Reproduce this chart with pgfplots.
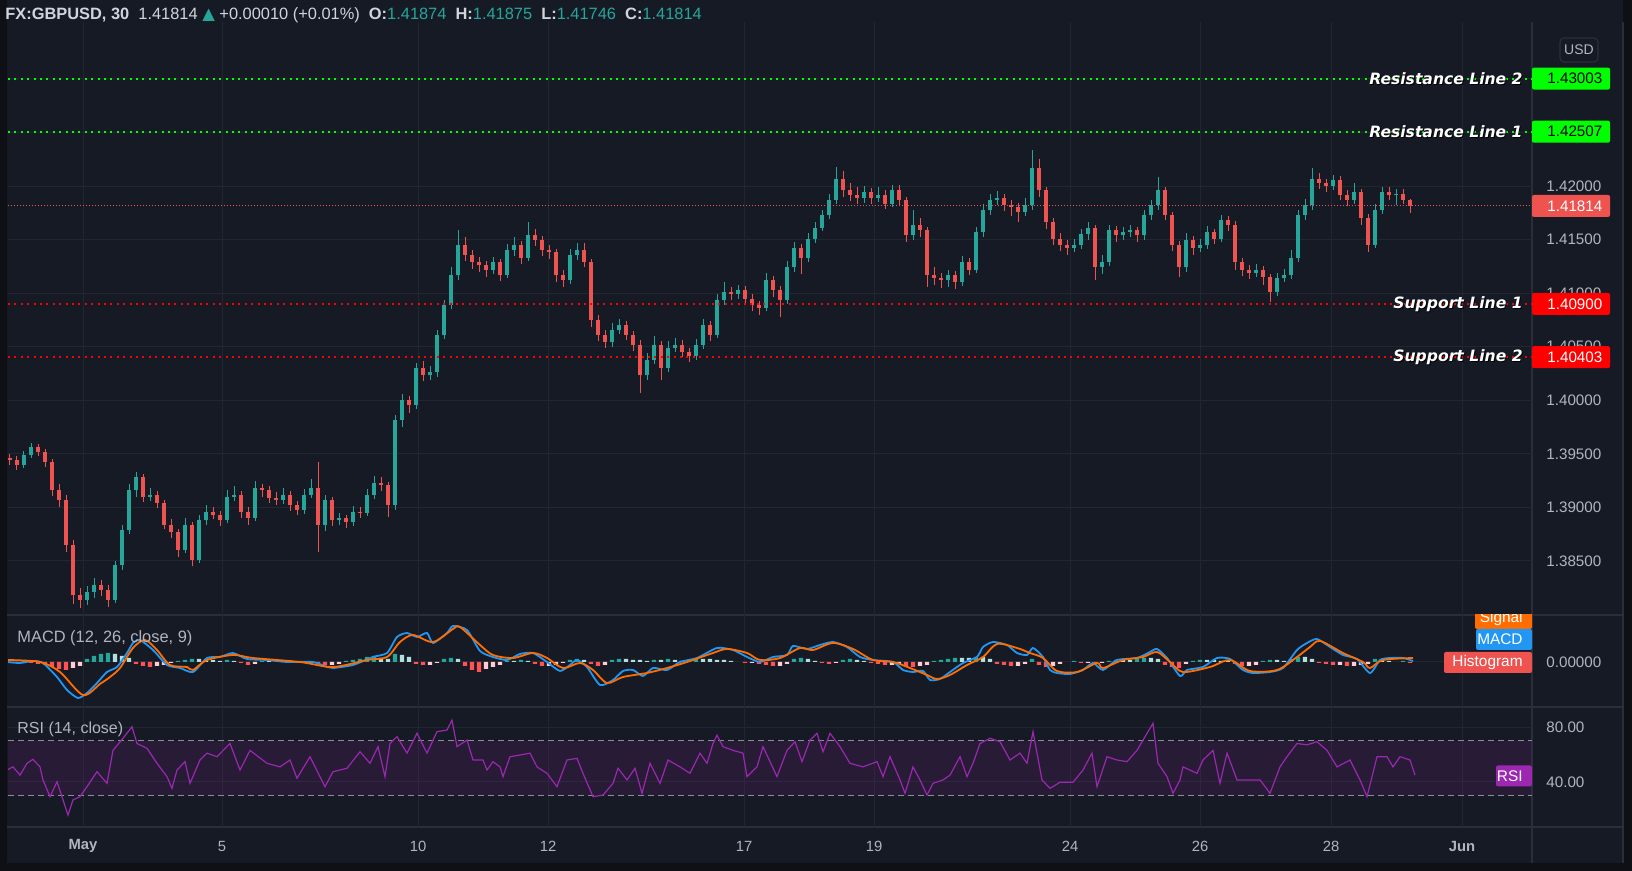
\documentclass[border=0pt]{standalone}
\usepackage{fontspec}
\setmainfont{Liberation Sans}
\newfontfamily\dejavu{DejaVu Sans}
\usepackage{pgfplots}
\usepackage{pgfplotstable}
\pgfplotsset{compat=1.18}

\definecolor{bg}{HTML}{161A25}
\definecolor{framec}{HTML}{0E1016}
\definecolor{gridc}{HTML}{222631}
\definecolor{sepc}{HTML}{2A2E39}
\definecolor{txt}{HTML}{B2B5BE}
\definecolor{hdr}{HTML}{D1D4DC}
\definecolor{upc}{HTML}{26A69A}
\definecolor{dnc}{HTML}{EF5350}
\definecolor{resg}{HTML}{00FF00}
\definecolor{supr}{HTML}{FF0000}
\definecolor{macdb}{HTML}{2196F3}
\definecolor{sigo}{HTML}{FF6D00}
\definecolor{hA}{HTML}{26A69A}
\definecolor{hB}{HTML}{B2DFDB}
\definecolor{hC}{HTML}{FF5252}
\definecolor{hD}{HTML}{FFCDD2}
\definecolor{rsic}{HTML}{9C27B0}
\definecolor{dashc}{HTML}{8A8D97}

\newcommand\lblfont{\dejavu\bfseries\itshape\fontsize{7.8}{9}\selectfont}
\newcommand\tagfont{\fontsize{7.6}{8}\selectfont}

% 30-minute GBPUSD candles, sampled (x = time position)
\pgfplotstableread{
x o h l c
10 1.3946 1.3950 1.3940 1.3944
17 1.3944 1.3948 1.3935 1.3940
24 1.3940 1.3953 1.3937 1.3949
31 1.3949 1.3960 1.3946 1.3956
38 1.3956 1.3959 1.3948 1.3952
45 1.3952 1.3955 1.3938 1.3942
52 1.3942 1.3945 1.3911 1.3916
59 1.3916 1.3922 1.3900 1.3907
66 1.3907 1.3912 1.3858 1.3865
73 1.3865 1.3870 1.3810 1.3818
80 1.3818 1.3825 1.3806 1.3814
87 1.3814 1.3827 1.3809 1.3821
94 1.3821 1.3834 1.3815 1.3828
101 1.3828 1.3832 1.3817 1.3823
108 1.3823 1.3828 1.3807 1.3814
115 1.3814 1.3850 1.3811 1.3846
122 1.3846 1.3884 1.3842 1.3879
129 1.3879 1.3922 1.3875 1.3916
136 1.3916 1.3933 1.3910 1.3928
143 1.3928 1.3931 1.3905 1.3910
150 1.3910 1.3918 1.3906 1.3912
157 1.3912 1.3915 1.3899 1.3904
164 1.3904 1.3907 1.3880 1.3884
171 1.3884 1.3889 1.3871 1.3877
178 1.3877 1.3880 1.3854 1.3860
185 1.3860 1.3890 1.3857 1.3884
192 1.3884 1.3886 1.3845 1.3851
199 1.3851 1.3893 1.3848 1.3888
206 1.3888 1.3902 1.3884 1.3896
213 1.3896 1.3900 1.3889 1.3893
220 1.3893 1.3897 1.3883 1.3888
227 1.3888 1.3916 1.3885 1.3910
234 1.3910 1.3920 1.3906 1.3912
241 1.3912 1.3915 1.3890 1.3896
248 1.3896 1.3900 1.3884 1.3890
255 1.3890 1.3925 1.3887 1.3918
262 1.3918 1.3922 1.3910 1.3916
269 1.3916 1.3920 1.3904 1.3909
276 1.3909 1.3914 1.3902 1.3907
283 1.3907 1.3918 1.3903 1.3912
290 1.3912 1.3915 1.3897 1.3902
297 1.3902 1.3906 1.3893 1.3898
304 1.3898 1.3917 1.3894 1.3912
311 1.3912 1.3927 1.3909 1.3918
318 1.3918 1.3942 1.3858 1.3884
325 1.3884 1.3912 1.3878 1.3907
332 1.3907 1.3910 1.3883 1.3888
339 1.3888 1.3895 1.3884 1.3890
346 1.3890 1.3893 1.3881 1.3886
353 1.3886 1.3901 1.3883 1.3896
360 1.3896 1.3900 1.3890 1.3895
367 1.3895 1.3917 1.3892 1.3912
374 1.3912 1.3929 1.3908 1.3923
381 1.3923 1.3928 1.3915 1.3921
388 1.3921 1.3924 1.3891 1.3902
395 1.3902 1.3986 1.3898 1.3982
402 1.3982 1.4006 1.3975 1.4000
409 1.4000 1.4004 1.3988 1.3996
416 1.3996 1.4035 1.3992 1.4030
423 1.4030 1.4037 1.4018 1.4024
430 1.4024 1.4032 1.4019 1.4026
437 1.4026 1.4066 1.4022 1.4061
444 1.4061 1.4094 1.4057 1.4089
451 1.4089 1.4124 1.4085 1.4117
458 1.4117 1.4159 1.4112 1.4145
465 1.4145 1.4152 1.4130 1.4136
472 1.4136 1.4140 1.4123 1.4129
479 1.4129 1.4134 1.4120 1.4126
486 1.4126 1.4130 1.4115 1.4122
493 1.4122 1.4134 1.4118 1.4129
500 1.4129 1.4132 1.4111 1.4117
507 1.4117 1.4146 1.4114 1.4140
514 1.4140 1.4152 1.4135 1.4145
521 1.4145 1.4149 1.4127 1.4133
528 1.4133 1.4166 1.4130 1.4154
535 1.4154 1.4160 1.4144 1.4150
542 1.4150 1.4153 1.4135 1.4140
549 1.4140 1.4145 1.4132 1.4138
556 1.4138 1.4141 1.4110 1.4117
563 1.4117 1.4122 1.4106 1.4112
570 1.4112 1.4141 1.4109 1.4136
577 1.4136 1.4147 1.4131 1.4140
584 1.4140 1.4147 1.4124 1.4129
591 1.4129 1.4132 1.4068 1.4075
598 1.4075 1.4080 1.4055 1.4061
605 1.4061 1.4066 1.4049 1.4054
612 1.4054 1.4072 1.4050 1.4066
619 1.4066 1.4076 1.4062 1.4070
626 1.4070 1.4074 1.4056 1.4061
633 1.4061 1.4065 1.4046 1.4052
640 1.4052 1.4056 1.4007 1.4024
647 1.4024 1.4044 1.4019 1.4038
654 1.4038 1.4060 1.4034 1.4052
661 1.4052 1.4055 1.4019 1.4030
668 1.4030 1.4055 1.4026 1.4049
675 1.4049 1.4058 1.4045 1.4052
682 1.4052 1.4056 1.4040 1.4045
689 1.4045 1.4049 1.4036 1.4041
696 1.4041 1.4057 1.4038 1.4052
703 1.4052 1.4076 1.4048 1.4070
710 1.4070 1.4074 1.4055 1.4061
717 1.4061 1.4099 1.4058 1.4094
724 1.4094 1.4110 1.4089 1.4101
731 1.4101 1.4106 1.4094 1.4099
738 1.4099 1.4108 1.4095 1.4103
745 1.4103 1.4107 1.4090 1.4095
752 1.4095 1.4099 1.4083 1.4089
759 1.4089 1.4093 1.4080 1.4086
766 1.4086 1.4119 1.4083 1.4112
773 1.4112 1.4116 1.4096 1.4103
780 1.4103 1.4107 1.4078 1.4094
787 1.4094 1.4130 1.4090 1.4124
794 1.4124 1.4148 1.4120 1.4142
801 1.4142 1.4146 1.4118 1.4133
808 1.4133 1.4156 1.4129 1.4151
815 1.4151 1.4166 1.4147 1.4161
822 1.4161 1.4178 1.4158 1.4173
829 1.4173 1.4193 1.4169 1.4187
836 1.4187 1.4218 1.4183 1.4207
843 1.4207 1.4214 1.4190 1.4196
850 1.4196 1.4203 1.4186 1.4192
857 1.4192 1.4199 1.4183 1.4189
864 1.4189 1.4200 1.4184 1.4194
871 1.4194 1.4198 1.4183 1.4189
878 1.4189 1.4199 1.4185 1.4192
885 1.4192 1.4196 1.4179 1.4183
892 1.4183 1.4201 1.4180 1.4196
899 1.4196 1.4201 1.4182 1.4187
906 1.4187 1.4190 1.4148 1.4154
913 1.4154 1.4178 1.4150 1.4164
920 1.4164 1.4170 1.4152 1.4159
927 1.4159 1.4162 1.4106 1.4117
934 1.4117 1.4124 1.4108 1.4114
941 1.4114 1.4119 1.4105 1.4112
948 1.4112 1.4122 1.4106 1.4117
955 1.4117 1.4121 1.4104 1.4110
962 1.4110 1.4135 1.4107 1.4129
969 1.4129 1.4133 1.4117 1.4122
976 1.4122 1.4162 1.4119 1.4157
983 1.4157 1.4183 1.4152 1.4178
990 1.4178 1.4193 1.4173 1.4187
997 1.4187 1.4195 1.4182 1.4189
1004 1.4189 1.4193 1.4177 1.4182
1011 1.4182 1.4187 1.4172 1.4180
1018 1.4180 1.4184 1.4166 1.4176
1025 1.4176 1.4189 1.4172 1.4182
1032 1.4182 1.4234 1.4178 1.4217
1039 1.4217 1.4225 1.4190 1.4196
1046 1.4196 1.4199 1.4160 1.4166
1053 1.4166 1.4170 1.4145 1.4151
1060 1.4151 1.4156 1.4139 1.4145
1067 1.4145 1.4150 1.4136 1.4142
1074 1.4142 1.4151 1.4138 1.4145
1081 1.4145 1.4160 1.4141 1.4155
1088 1.4155 1.4166 1.4150 1.4161
1095 1.4161 1.4164 1.4112 1.4124
1102 1.4124 1.4136 1.4118 1.4129
1109 1.4129 1.4164 1.4125 1.4159
1116 1.4159 1.4163 1.4148 1.4154
1123 1.4154 1.4162 1.4150 1.4157
1130 1.4157 1.4164 1.4152 1.4159
1137 1.4159 1.4162 1.4148 1.4154
1144 1.4154 1.4178 1.4150 1.4173
1151 1.4173 1.4187 1.4168 1.4182
1158 1.4182 1.4208 1.4178 1.4196
1165 1.4196 1.4199 1.4168 1.4173
1172 1.4173 1.4176 1.4139 1.4145
1179 1.4145 1.4149 1.4115 1.4124
1186 1.4124 1.4156 1.4120 1.4150
1193 1.4150 1.4153 1.4136 1.4142
1200 1.4142 1.4151 1.4138 1.4145
1207 1.4145 1.4163 1.4141 1.4157
1214 1.4157 1.4160 1.4146 1.4151
1221 1.4151 1.4173 1.4148 1.4168
1228 1.4168 1.4172 1.4158 1.4164
1235 1.4164 1.4167 1.4122 1.4129
1242 1.4129 1.4133 1.4116 1.4122
1249 1.4122 1.4126 1.4113 1.4119
1256 1.4119 1.4127 1.4115 1.4122
1263 1.4122 1.4125 1.4108 1.4115
1270 1.4115 1.4118 1.4092 1.4101
1277 1.4101 1.4119 1.4097 1.4114
1284 1.4114 1.4123 1.4110 1.4117
1291 1.4117 1.4140 1.4113 1.4133
1298 1.4133 1.4178 1.4129 1.4173
1305 1.4173 1.4188 1.4168 1.4182
1312 1.4182 1.4217 1.4178 1.4207
1319 1.4207 1.4212 1.4197 1.4203
1326 1.4203 1.4207 1.4194 1.4200
1333 1.4200 1.4210 1.4196 1.4206
1340 1.4206 1.4209 1.4187 1.4192
1347 1.4192 1.4196 1.4181 1.4187
1354 1.4187 1.4203 1.4183 1.4194
1361 1.4194 1.4197 1.4164 1.4170
1368 1.4170 1.4174 1.4138 1.4145
1375 1.4145 1.4183 1.4142 1.4178
1382 1.4178 1.4199 1.4174 1.4194
1389 1.4194 1.4199 1.4187 1.4192
1396 1.4192 1.4197 1.4182 1.4193
1403 1.4193 1.4197 1.4183 1.41874
1410 1.41874 1.41875 1.41746 1.41814
}\candles

% MACD histogram: value v, colour class k (0 up-rising, 1 up-falling, 2 down-falling, 3 down-rising)
\pgfplotstableread{
x v k
10 -0.00005 2
17 -0.00005 3
24 0.00005 0
31 -0.00005 2
38 -0.0001 2
45 -0.00015 2
52 -0.00025 2
59 -0.00035 2
66 -0.0004 2
73 -0.0003 3
80 -0.0002 3
87 0.00015 0
94 0.0003 0
101 0.0004 0
108 0.00045 0
115 0.0004 1
122 0.0003 1
129 0.0002 1
136 -0.0001 2
143 -0.0002 2
150 -0.00025 2
157 -0.0002 3
164 -0.00015 3
171 -0.00005 3
178 0.00005 0
185 0.0001 0
192 0.00015 0
199 0.00015 1
206 0.0001 1
213 0.0001 1
220 0.00005 1
227 0.0001 0
234 0.00005 1
241 -0.00005 2
248 -0.00015 2
255 -0.0001 3
262 0.00005 0
269 0.00005 1
283 0.00005 0
290 0.00005 1
304 -0.00005 2
311 -0.00005 3
318 -0.0001 2
325 -0.00015 2
332 -0.00015 3
339 -0.0001 3
346 0.00005 0
353 0.0001 0
360 0.00015 0
367 0.00025 0
374 0.0003 0
381 0.0002 1
388 0.00015 1
395 0.0004 0
402 0.00035 1
409 0.00025 1
416 -0.0001 2
423 -0.00015 2
430 -0.00015 3
437 -0.00005 3
444 0.00015 0
451 0.0002 0
458 0.00015 1
465 -0.0002 2
472 -0.0004 2
479 -0.0005 2
486 -0.00035 3
493 -0.00025 3
500 -0.00015 3
507 0.00005 0
514 0.00005 1
521 0.0001 0
528 0.00005 1
535 -0.0001 2
542 -0.0002 2
549 -0.0002 3
556 -0.00015 3
563 -0.00005 3
570 0.0001 0
577 0.00015 0
584 0.0001 1
591 -0.0001 2
598 -0.0002 2
605 -0.00015 3
612 0.0001 0
619 0.00015 0
626 0.00015 1
633 0.0001 1
640 0.0001 1
647 0.00005 1
654 0.0001 0
661 0.0001 1
668 0.00015 0
675 0.0001 1
682 0.00005 1
689 0.0001 0
696 0.00015 0
703 0.00015 1
710 0.00015 1
717 0.0001 1
724 0.0001 1
731 0.00005 1
745 -0.00005 2
752 -0.00005 3
759 -0.0001 2
766 -0.00015 2
773 -0.0002 2
780 -0.0002 3
787 -0.0001 3
794 0.00015 0
801 0.0002 0
808 0.00015 1
815 0.00005 1
822 -0.00005 2
829 -0.0001 2
836 -0.00005 3
843 0.0001 0
850 0.00015 0
857 0.0001 1
864 0.00005 1
871 -0.00005 2
878 -0.0001 2
885 -0.00015 2
892 -0.00015 3
899 -0.0001 3
906 -0.0002 2
913 -0.00025 2
920 -0.0002 3
927 -0.00015 3
934 0.00005 0
941 0.0001 0
948 0.00015 0
955 0.0002 0
962 0.0002 1
969 0.0002 1
976 0.00025 0
983 0.00025 1
990 0.00015 1
997 -0.0001 2
1004 -0.00015 2
1011 -0.0002 2
1018 -0.0002 3
1025 -0.0001 3
1032 0.00015 0
1039 -0.00015 2
1046 -0.00025 2
1053 -0.0002 3
1060 -0.0001 3
1074 0.00005 0
1081 -0.00005 2
1088 -0.00005 3
1095 -0.0001 2
1102 -0.00005 3
1109 0.00005 0
1116 0.0001 0
1123 0.0001 1
1130 0.0001 1
1137 0.00015 0
1144 0.0002 0
1151 0.0002 1
1158 0.00015 1
1165 -0.00015 2
1172 -0.00025 2
1179 -0.0003 2
1186 -0.0001 3
1193 0.00005 0
1200 0.0001 0
1207 0.0001 1
1214 0.0001 1
1221 0.00005 1
1228 0.00005 1
1235 -0.0001 2
1242 -0.0002 2
1249 -0.0002 3
1256 -0.00015 3
1263 0.00005 0
1270 0.0001 0
1277 0.0001 1
1284 0.00005 1
1291 0.00015 0
1298 0.00025 0
1305 0.00025 1
1312 0.00015 1
1319 -0.00005 2
1326 -0.0001 2
1333 -0.00015 2
1340 -0.00015 3
1347 -0.0002 2
1354 -0.0002 3
1361 -0.00015 3
1368 -0.0001 3
1375 0.00015 0
1382 0.0001 1
1389 0.00005 1
1403 0.00005 0
1410 -0.00005 2
}\hist

\pgfplotsset{
  pane/.style={
    scale only axis, width=762pt, xmin=8, xmax=1532, anchor=south west,
    axis line style={draw=none}, major tick length=0pt, tick style={draw=none},
    xtick={83,222,418,548,744,874,1070,1200,1331,1462},
    scaled x ticks=false, scaled y ticks=false,
    grid=major, major grid style={draw=gridc, line width=0.5pt},
    yticklabel pos=right,
    yticklabel style={anchor=west, inner sep=0pt, xshift=7pt, font=\tagfont, text=txt},
  },
  candle/.style={only marks, mark=*, mark size=0pt, mark options={draw=none, fill=none}, forget plot},
}

\begin{document}
\begin{tikzpicture}[x=1pt,y=1pt]
\useasboundingbox (0,0) rectangle (816,435.5);
\fill[bg] (0,0) rectangle (816,435.5);
\fill[framec] (0,0) rectangle (3.5,435.5);
\fill[framec] (811.5,0) rectangle (816,435.5);
\fill[framec] (0,0) rectangle (816,4);
% pane separators and scale border
\draw[sepc, line width=1pt] (3.5,128) -- (811.5,128);
\draw[sepc, line width=1pt] (3.5,82) -- (811.5,82);
\draw[sepc, line width=1pt] (3.5,22) -- (811.5,22);
\draw[sepc, line width=0.6pt] (766,4) -- (766,424.5);
\draw[sepc, line width=0.6pt] (811.5,4) -- (811.5,424.5);

% ---------------- main price pane ----------------
\begin{axis}[pane, at={(4pt,128pt)}, height=296.5pt,
  ymin=1.37996, ymax=1.43531, xticklabels={},
  ytick={1.385,1.39,1.395,1.4,1.405,1.41,1.415,1.42,1.425,1.43},
  yticklabels={1.38500,1.39000,1.39500,1.40000,1.40500,1.41000,1.41500,1.42000,{},{}}]
% up candles: wicks then bodies
\addplot[candle, restrict y to domain=1.3:1.5, error bars/.cd, y dir=plus, y explicit, error mark=none,
  error bar style={upc, line width=0.5pt}]
  table[x=x, y expr={\thisrow{l}+10*(\thisrow{c}<\thisrow{o})}, y error plus expr={\thisrow{h}-\thisrow{l}}] {\candles};
\addplot[candle, restrict y to domain=1.3:1.5, error bars/.cd, y dir=plus, y explicit, error mark=none,
  error bar style={upc, line width=2.2pt}]
  table[x=x, y expr={\thisrow{o}+10*(\thisrow{c}<\thisrow{o})}, y error plus expr={\thisrow{c}-\thisrow{o}}] {\candles};
% down candles
\addplot[candle, restrict y to domain=1.3:1.5, error bars/.cd, y dir=plus, y explicit, error mark=none,
  error bar style={dnc, line width=0.5pt}]
  table[x=x, y expr={\thisrow{l}+10*(1-(\thisrow{c}<\thisrow{o}))}, y error plus expr={\thisrow{h}-\thisrow{l}}] {\candles};
\addplot[candle, restrict y to domain=1.3:1.5, error bars/.cd, y dir=plus, y explicit, error mark=none,
  error bar style={dnc, line width=2.2pt}]
  table[x=x, y expr={\thisrow{c}+10*(1-(\thisrow{c}<\thisrow{o}))}, y error plus expr={\thisrow{o}-\thisrow{c}}] {\candles};
% horizontal levels
\addplot[resg, line width=1pt, dash pattern=on 1pt off 2.2pt] coordinates {(8,1.43003) (1532,1.43003)};
\addplot[resg, line width=1pt, dash pattern=on 1pt off 2.2pt] coordinates {(8,1.42507) (1532,1.42507)};
\addplot[dnc, line width=0.5pt, dash pattern=on 0.5pt off 1pt] coordinates {(8,1.41814) (1532,1.41814)};
\addplot[supr, line width=1pt, dash pattern=on 1pt off 2.2pt] coordinates {(8,1.40900) (1532,1.40900)};
\addplot[supr, line width=1pt, dash pattern=on 1pt off 2.2pt] coordinates {(8,1.40403) (1532,1.40403)};
% level labels
\foreach \v/\t in {1.43003/Resistance Line 2, 1.42507/Resistance Line 1, 1.40900/Support Line 1, 1.40403/Support Line 2}{
  \edef\tmp{\noexpand\node[anchor=east, inner sep=0pt, font=\noexpand\lblfont, text=black, xshift=0.5pt, yshift=-0.5pt] at (axis cs:1523,\v) {\t};}\tmp
  \edef\tmp{\noexpand\node[anchor=east, inner sep=0pt, font=\noexpand\lblfont, text=white] at (axis cs:1523,\v) {\t};}\tmp
}
\coordinate (tR2) at (axis cs:1532,1.43003);
\coordinate (tR1) at (axis cs:1532,1.42507);
\coordinate (tC) at (axis cs:1532,1.41814);
\coordinate (tS1) at (axis cs:1532,1.40900);
\coordinate (tS2) at (axis cs:1532,1.40403);
\end{axis}

% ---------------- MACD pane ----------------
\begin{axis}[pane, at={(4pt,82pt)}, height=46pt,
  ymin=-0.00225, ymax=0.00235, xticklabels={},
  ytick={0}, yticklabels={0.00000}]
\addplot[ybar, bar width=2.2pt, bar shift=0pt, draw=none, fill=hA, restrict y to domain=-0.01:0.01, forget plot]
  table[x=x, y expr={\thisrow{v}+abs(\thisrow{k}-0)}] {\hist};
\addplot[ybar, bar width=2.2pt, bar shift=0pt, draw=none, fill=hB, restrict y to domain=-0.01:0.01, forget plot]
  table[x=x, y expr={\thisrow{v}+abs(\thisrow{k}-1)}] {\hist};
\addplot[ybar, bar width=2.2pt, bar shift=0pt, draw=none, fill=hC, restrict y to domain=-0.01:0.01, forget plot]
  table[x=x, y expr={\thisrow{v}+abs(\thisrow{k}-2)}] {\hist};
\addplot[ybar, bar width=2.2pt, bar shift=0pt, draw=none, fill=hD, restrict y to domain=-0.01:0.01, forget plot]
  table[x=x, y expr={\thisrow{v}+abs(\thisrow{k}-3)}] {\hist};
% MACD line
\addplot[macdb, line width=0.9pt, smooth, tension=0.4] coordinates {
(7,0)(20,-0.00005)(33,0.00005)(43,-0.00005)(57,-0.00075)(67,-0.0014)(78,-0.0018)(87,-0.00155)(97,-0.00105)(107,-0.0005)(117,-0.00025)(127,0.00045)(133,0.00095)(140,0.0011)(153,0.0006)(167,-0.00015)(180,-0.0003)(193,-0.0005)(207,0.0002)(220,0.00025)(233,0.00045)(247,0.00015)(267,0.0001)(287,0)(313,0)(327,-0.00025)(333,-0.0003)(353,-0.00015)(373,0.00025)(387,0.00045)(397,0.00125)(407,0.00145)(417,0.00125)(427,0.00145)(433,0.00095)(447,0.00145)(453,0.0018)(467,0.0016)(480,0.00055)(493,0.00025)(507,0.0001)(520,0.0004)(533,0.00045)(547,0)(560,-0.00045)(570,-0.00015)(577,0.0001)(587,-0.00025)(600,-0.00115)(613,-0.0009)(623,-0.00045)(633,-0.0004)(643,-0.0007)(653,-0.0003)(667,-0.0004)(680,0)(697,0.0002)(717,0.0007)(733,0.0006)(747,0.00025)(760,0)(773,0.00025)(787,0.00035)(793,0.0008)(807,0.00065)(820,0.00085)(833,0.001)(847,0.00075)(860,0.00025)(873,0.0001)(893,0)(903,-0.0004)(913,-0.0005)(923,-0.00045)(930,-0.0009)(940,-0.00085)(950,-0.0005)(963,-0.00005)(977,0.00025)(983,0.00075)(993,0.001)(1007,0.00085)(1017,0.00045)(1027,0.00035)(1033,0.0007)(1043,0.00025)(1050,-0.0004)(1057,-0.00055)(1070,-0.0006)(1083,-0.0004)(1093,-0.00005)(1103,-0.0004)(1117,0.0001)(1137,0.0002)(1150,0.0005)(1157,0.00065)(1167,0.0002)(1180,-0.0007)(1187,-0.0004)(1203,-0.00025)(1217,0.0002)(1230,0.00015)(1243,-0.0004)(1253,-0.00055)(1270,-0.0005)(1283,-0.0003)(1297,0.0006)(1307,0.00095)(1317,0.00115)(1330,0.00075)(1343,0.00035)(1357,0.00015)(1370,-0.00055)(1380,0.0001)(1390,0.0002)(1403,0.0002)(1413,0.00005)};
% Signal line
\addplot[sigo, line width=0.9pt, smooth, tension=0.5] coordinates {
(7,0.0001)(40,0)(60,-0.0005)(83,-0.00165)(100,-0.0011)(110,-0.00075)(120,-0.0003)(133,0.0007)(145,0.0011)(157,0.0006)(170,-0.00015)(187,-0.00025)(193,-0.0004)(207,0.0001)(233,0.00035)(253,0.0002)(300,0)(333,-0.00025)(367,0.0001)(387,0.00025)(400,0.001)(413,0.00135)(433,0.001)(453,0.00165)(460,0.00175)(480,0.00085)(493,0.00035)(513,0.0002)(533,0.00045)(547,0.0002)(563,-0.0003)(580,-0.00005)(593,-0.0004)(607,-0.00105)(623,-0.00075)(647,-0.00055)(667,-0.0003)(687,0)(713,0.00045)(727,0.00065)(747,0.00045)(760,0.0001)(780,0.0002)(800,0.0007)(813,0.0006)(833,0.00095)(853,0.00065)(873,0.0001)(893,0)(910,-0.0003)(927,-0.00065)(937,-0.00085)(950,-0.00065)(967,-0.00015)(983,0.00025)(997,0.0009)(1017,0.0007)(1030,0.00045)(1043,0.0002)(1057,-0.00045)(1077,-0.0005)(1097,-0.00005)(1103,-0.0003)(1123,0.0001)(1143,0.00025)(1157,0.0005)(1170,0)(1183,-0.0005)(1210,-0.00025)(1230,0.0001)(1250,-0.00045)(1277,-0.0004)(1297,0.00025)(1310,0.00075)(1320,0.00105)(1343,0.00045)(1363,0)(1370,-0.0003)(1383,0.0001)(1413,0.0002)};
\end{axis}

% ---------------- RSI pane ----------------
\begin{axis}[pane, at={(4pt,22pt)}, height=60pt,
  ymin=7.27, ymax=94.55,
  xticklabels={\textbf{May},5,10,12,17,19,24,26,28,\textbf{Jun}},
  xticklabel style={anchor=center, inner sep=0pt, yshift=-9.5pt, font=\fontsize{7.4}{8}\selectfont, text=txt},
  ytick={40,80}, yticklabels={40.00,80.00}]
\addplot[draw=none, fill=rsic, fill opacity=0.13] coordinates {(8,30) (1532,30) (1532,70) (8,70) (8,30)};
\addplot[dashc, line width=0.5pt, dash pattern=on 3pt off 2pt] coordinates {(8,70) (1532,70)};
\addplot[dashc, line width=0.5pt, dash pattern=on 3pt off 2pt] coordinates {(8,30) (1532,30)};
\addplot[rsic, line width=0.6pt] coordinates {
(7,48.7)(13,51)(20,45)(27,53.6)(33,56.5)(40,51)(43,41.5)(50,29.3)(57,40.2)(63,27)(68,16)(73,27)(80,29.3)(87,36.6)(97,47.5)(107,39)(113,63)(123,71.8)(132,80.2)(137,68)(147,64.5)(157,53.6)(167,43.9)(172,35.4)(177,48.7)(185,54.8)(190,39)(200,56)(207,61)(217,58.4)(230,68)(240,48.7)(250,63)(267,53.6)(280,51)(290,56)(297,42.7)(310,58.4)(325,36.6)(333,47.5)(347,50)(360,62)(370,53.6)(378,65.7)(385,43.9)(390,68)(397,73)(407,61)(417,75.4)(427,61)(437,76.6)(447,77.8)(452,85)(457,65.7)(467,70.5)(473,56)(483,56)(487,48.7)(493,54.8)(500,51)(503,43.9)(510,58.4)(520,59.6)(530,61)(537,51)(547,46.3)(557,36.6)(567,56)(577,57.2)(583,46.3)(593,29.3)(603,30.5)(613,39)(618,50)(627,41.5)(635,50)(642,31.8)(650,53.6)(660,39)(668,56)(680,51)(690,46.3)(700,61)(707,53.6)(713,68)(717,74)(723,65.7)(733,63)(743,61)(747,43.9)(757,51)(763,65.7)(777,43.9)(787,63)(795,69.3)(802,54.8)(810,70.5)(817,75.4)(823,62)(830,75.4)(840,65.7)(850,53.6)(863,51)(877,54.8)(883,43.9)(890,58.4)(900,41.5)(905,31.8)(913,51)(920,41.5)(927,30.5)(933,39)(943,41.5)(950,45)(960,58.4)(967,43.9)(973,53.6)(980,68)(990,71.8)(1000,69.3)(1010,56)(1020,61)(1027,53.6)(1033,76.6)(1042,41.5)(1050,35.4)(1060,39.8)(1073,39.8)(1083,48.7)(1092,61)(1097,36.6)(1107,58.4)(1117,56)(1127,54.8)(1137,63)(1147,75.4)(1153,82.7)(1158,53.6)(1167,43.9)(1173,31.8)(1180,41.5)(1183,51)(1197,46.3)(1203,56)(1213,63)(1220,39)(1227,61)(1237,41.5)(1247,41.5)(1260,41.5)(1270,31.8)(1280,51)(1287,58.4)(1297,68)(1307,67)(1317,69.3)(1327,63)(1337,51)(1350,56)(1360,41.5)(1367,29.3)(1377,58.4)(1387,58.4)(1393,51)(1400,58.4)(1410,56)(1415,45)};
\coordinate (tRSI) at (axis cs:1532,44.4);
\end{axis}

% ---------------- price tags ----------------
\newcommand\ptag[4]{%
  \fill[#2, rounded corners=1pt] ([yshift=-5.5pt]#1) rectangle ([xshift=39pt,yshift=5.5pt]#1);
  \node[anchor=west, inner sep=0pt, text=#3, font=\tagfont] at ([xshift=7.5pt]#1) {#4};}
\ptag{tR2}{resg}{black}{1.43003}
\ptag{tR1}{resg}{black}{1.42507}
\ptag{tC}{dnc}{white}{1.41814}
\ptag{tS1}{supr}{white}{1.40900}
\ptag{tS2}{supr}{white}{1.40403}

% MACD pane tags
\begin{scope}
\clip (730,82) rectangle (766,128);
\fill[sigo, rounded corners=1pt] (737.5,121) rectangle (766,131.5);
\node[anchor=east, inner sep=0pt, text=white, font=\fontsize{7.7}{8}\selectfont] at (761.5,126.25) {Signal};
\end{scope}
\fill[macdb, rounded corners=1pt] (738,110.5) rectangle (766,121);
\node[anchor=east, inner sep=0pt, text=white, font=\fontsize{7.7}{8}\selectfont] at (761.5,115.75) {MACD};
\fill[dnc, rounded corners=1pt] (722,99) rectangle (766,109.5);
\node[anchor=east, inner sep=0pt, text=white, font=\fontsize{7.7}{8}\selectfont] at (761.5,104.25) {Histogram};
% RSI tag
\fill[rsic, rounded corners=1pt] ([xshift=-18pt,yshift=-5.25pt]tRSI) rectangle ([yshift=5.25pt]tRSI);
\node[anchor=east, inner sep=0pt, text=white, font=\fontsize{7.7}{8}\selectfont] at ([xshift=-4.5pt]tRSI) {RSI};

% pane titles
\node[anchor=west, inner sep=0pt, text=txt, font=\fontsize{8.2}{9}\selectfont] at (8.5,116.5) {MACD (12, 26, close, 9)};
\node[anchor=west, inner sep=0pt, text=txt, font=\fontsize{8}{9}\selectfont] at (8.5,71) {RSI (14, close)};

% USD box
\draw[sepc, line width=0.6pt, rounded corners=2pt] (780,404.5) rectangle (799,416.5);
\node[inner sep=0pt, text=txt, font=\fontsize{7}{8}\selectfont] at (789.5,410.5) {USD};

% header
\node[anchor=base west, inner sep=0pt, text=hdr, font=\fontsize{8.2}{9}\selectfont] at (2.5,425.75)
  {\textbf{FX:GBPUSD, 30}\ \ 1.41814 {\color{upc}\dejavu ▲} +0.00010 (+0.01\%)\ \ \textbf{O:}{\color{upc}1.41874}\ \ \textbf{H:}{\color{upc}1.41875}\ \ \textbf{L:}{\color{upc}1.41746}\ \ \textbf{C:}{\color{upc}1.41814}};
\end{tikzpicture}
\end{document}
